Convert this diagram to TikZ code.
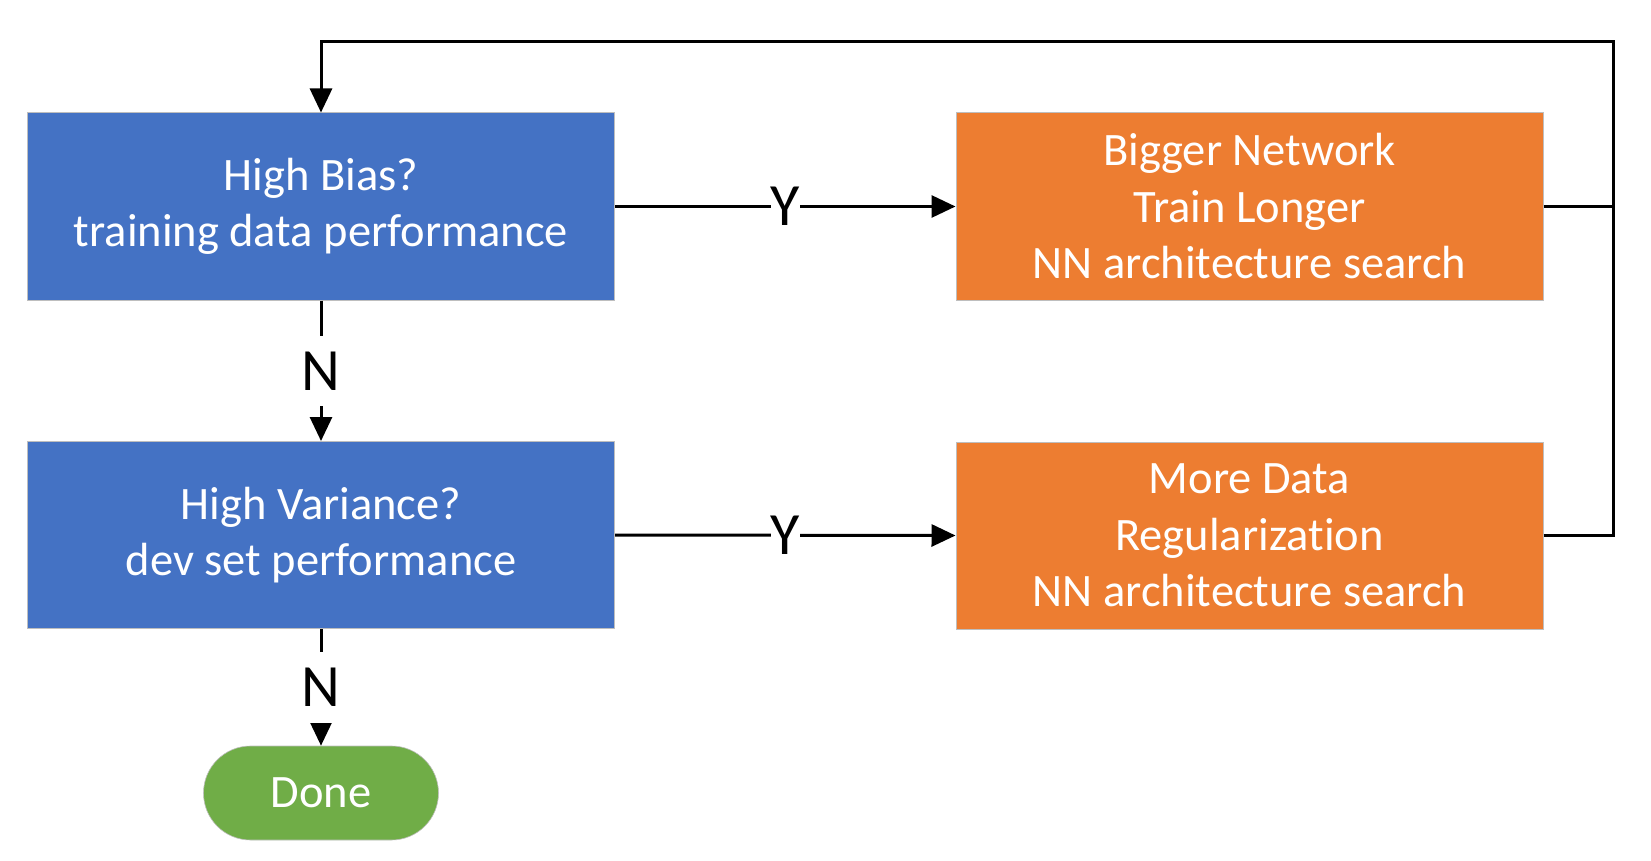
\documentclass[tikz,border=0pt]{standalone}
\usepackage{fontspec}
\setmainfont{Carlito}[Ligatures=NoCommon]
\usetikzlibrary{arrows.meta}
\definecolor{bluebox}{RGB}{68,114,196}
\definecolor{orangebox}{RGB}{237,125,49}
\definecolor{greenbox}{RGB}{112,173,71}
\definecolor{edgegray}{RGB}{190,190,190}
\tikzset{
  box/.style={rectangle, draw=edgegray, line width=1pt, minimum width=587pt, minimum height=187pt,
    inner sep=0pt, text=white, align=center, font=\fontsize{46.5}{56.5}\selectfont},
  bluestep/.style={box, fill=bluebox},
  orangestep/.style={box, fill=orangebox},
  donebox/.style={rectangle, rounded corners=47pt, fill=greenbox, draw=edgegray, line width=0.6pt,
    minimum width=235pt, minimum height=94pt, text=white, font=\fontsize{46.5}{56}\selectfont},
  conn/.style={line width=3pt, draw=black},
  arr/.style={conn, -{Triangle[length=24pt,width=22pt]}},
  lbl/.style={fill=white, inner xsep=0pt, inner ysep=16pt, font=\fontsize{60}{60}\selectfont}
}
\begin{document}
\begin{tikzpicture}[x=1pt,y=-1pt]
\useasboundingbox (0,0) rectangle (1651,861);
\node[bluestep] (b1) at (321,206.5) {High Bias?\\training data performance};
\node[bluestep] (b2) at (321,535) {High Variance?\\dev set performance};
\node[orangestep] (o1) at (1249.5,206.5) {Bigger Network\\Train Longer\\NN architecture search};
\node[orangestep] (o2) at (1249.5,535.5) {More Data\\Regularization\\NN architecture search};
\node[donebox] (done) at (321,793) {Done};
\coordinate (tr) at (1613,42);
\draw[arr] (b1.east) -- node[lbl] {Y} (o1.west);
\draw[arr] (b2.east) -- node[lbl] {Y} (o2.west);
\draw[arr] (b1.south) -- node[lbl] {N} (b2.north);
\draw[arr] (b2.south) -- node[lbl] {N} (done.north);
\draw[conn] (o1.east) -- (o1.east -| tr);
\draw[arr] (o2.east) -| (tr) -| (b1.north);
\end{tikzpicture}
\end{document}
